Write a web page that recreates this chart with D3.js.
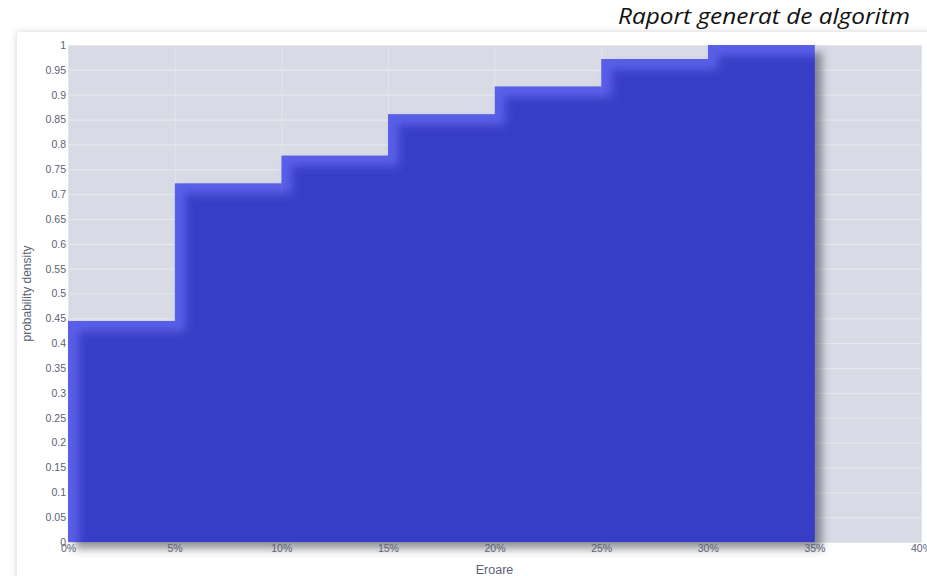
<!DOCTYPE html>
<html>
<head>
<meta charset="utf-8">
<script src="https://cdn.jsdelivr.net/npm/d3@7"></script>
<style>
  body { margin: 0; background: #fff; }
  svg { display: block; }
</style>
</head>
<body>
<div id="chart"></div>
<script>
var w = 927;
var h = 576;

// bins of the error (in %) and the cumulative density in each bin
var binStarts = [0, 5, 10, 15, 20, 25, 30];
var binWidth = 5;
var densities = [0.445, 0.722, 0.778, 0.861, 0.917, 0.972, 1.0];

var xTickValues = [0, 5, 10, 15, 20, 25, 30, 35, 40];
var yTickValues = [0, 0.05, 0.1, 0.15, 0.2, 0.25, 0.3, 0.35, 0.4, 0.45, 0.5,
                   0.55, 0.6, 0.65, 0.7, 0.75, 0.8, 0.85, 0.9, 0.95, 1];

var plotLeft = 68;
var plotRight = 921;
var plotTop = 45;
var plotBottom = 542;

var svg = d3.select("#chart")
        .append("svg")
        .attr("width", w)
        .attr("height", h);

var defs = svg.append("defs");

// soft shadow round the card
var cardShadow = defs.append("filter")
        .attr("id", "cardShadow")
        .attr("x", "-5%").attr("y", "-5%")
        .attr("width", "110%").attr("height", "110%");
cardShadow.append("feGaussianBlur")
        .attr("in", "SourceAlpha")
        .attr("stdDeviation", 3)
        .attr("result", "blur");
cardShadow.append("feFlood").attr("flood-color", "#000").attr("flood-opacity", 0.18);
cardShadow.append("feComposite").attr("in2", "blur").attr("operator", "in").attr("result", "sh");
var cm = cardShadow.append("feMerge");
cm.append("feMergeNode").attr("in", "sh");
cm.append("feMergeNode").attr("in", "SourceGraphic");

// bars: lighter edge top/left, dark drop shadow bottom/right
var barFx = defs.append("filter")
        .attr("id", "barFx")
        .attr("x", "-5%").attr("y", "-5%")
        .attr("width", "115%").attr("height", "115%");
barFx.append("feOffset").attr("in", "SourceAlpha").attr("dx", 10).attr("dy", 10).attr("result", "off");
barFx.append("feGaussianBlur").attr("in", "off").attr("stdDeviation", 4).attr("result", "offBlur");
barFx.append("feFlood").attr("flood-color", "#5a5fe8").attr("result", "lightC");
barFx.append("feComposite").attr("in", "lightC").attr("in2", "SourceAlpha").attr("operator", "in").attr("result", "light");
barFx.append("feFlood").attr("flood-color", "#383ec7").attr("result", "darkC");
barFx.append("feComposite").attr("in", "darkC").attr("in2", "offBlur").attr("operator", "in").attr("result", "dark");
barFx.append("feComposite").attr("in", "dark").attr("in2", "light").attr("operator", "over").attr("result", "body1");
barFx.append("feComposite").attr("in", "body1").attr("in2", "SourceAlpha").attr("operator", "in").attr("result", "body");
barFx.append("feOffset").attr("in", "SourceAlpha").attr("dx", 7).attr("dy", 7).attr("result", "shOff");
barFx.append("feGaussianBlur").attr("in", "shOff").attr("stdDeviation", 4).attr("result", "shBlur");
barFx.append("feFlood").attr("flood-color", "#3a3d48").attr("flood-opacity", 0.55);
barFx.append("feComposite").attr("in2", "shBlur").attr("operator", "in").attr("result", "shadow");
var bm = barFx.append("feMerge");
bm.append("feMergeNode").attr("in", "shadow");
bm.append("feMergeNode").attr("in", "body");

// card
svg.append("rect")
        .attr("x", 17)
        .attr("y", 32)
        .attr("width", w + 20)
        .attr("height", h + 20)
        .attr("fill", "#fff")
        .attr("filter", "url(#cardShadow)");

// title above the card
svg.append("text")
        .attr("x", 910)
        .attr("y", 24)
        .attr("text-anchor", "end")
        .attr("textLength", 292)
        .attr("lengthAdjust", "spacingAndGlyphs")
        .style("font-family", "'Open Sans', sans-serif")
        .style("font-style", "italic")
        .style("font-size", "22px")
        .style("fill", "#111")
        .text("Raport generat de algoritm");

var xScale = d3.scaleLinear()
        .domain([0, 40])
        .range([plotLeft, plotRight]);

var yScale = d3.scaleLinear()
        .domain([0, 1])
        .range([plotBottom, plotTop]);

// plot background
svg.append("rect")
        .attr("x", plotLeft)
        .attr("y", plotTop)
        .attr("width", plotRight - plotLeft)
        .attr("height", plotBottom - plotTop)
        .attr("fill", "#d8dbe5");

// gridlines
var yGrid = d3.axisLeft(yScale)
        .tickValues(yTickValues)
        .tickSize(-(plotRight - plotLeft))
        .tickFormat("");
svg.append("g")
        .attr("class", "grid")
        .attr("transform", "translate(" + plotLeft + ",0)")
        .call(yGrid)
        .call(function(g) {
            g.select(".domain").remove();
            g.selectAll("line").attr("stroke", "#e6e8ee").attr("stroke-width", 1.2);
        });

var xGrid = d3.axisBottom(xScale)
        .tickValues(xTickValues)
        .tickSize(-(plotBottom - plotTop))
        .tickFormat("");
svg.append("g")
        .attr("class", "grid")
        .attr("transform", "translate(0," + plotBottom + ")")
        .call(xGrid)
        .call(function(g) {
            g.select(".domain").remove();
            g.selectAll("line").attr("stroke", "#e2e5ec").attr("stroke-width", 1);
        });

// bars
var bars = svg.append("g")
        .attr("filter", "url(#barFx)");
bars.selectAll("rect")
        .data(binStarts)
        .enter()
        .append("rect")
        .attr("x", function(d) { return xScale(d); })
        .attr("y", function(d, i) { return yScale(densities[i]); })
        .attr("width", function(d) { return xScale(d + binWidth) - xScale(d) + 0.5; })
        .attr("height", function(d, i) { return plotBottom - yScale(densities[i]); })
        .attr("fill", "#383ec7");

// axes
var yAxis = d3.axisLeft(yScale)
        .tickValues(yTickValues)
        .tickSize(0)
        .tickPadding(2)
        .tickFormat(function(d) { return d3.format("~g")(d); });
svg.append("g")
        .attr("class", "axisY")
        .attr("transform", "translate(" + plotLeft + ",0)")
        .call(yAxis)
        .call(function(g) {
            g.select(".domain").remove();
            g.selectAll("text")
                .style("font-family", "'Liberation Sans', Arial, sans-serif")
                .style("font-size", "10.5px")
                .style("fill", "#5b6275");
        });

var xAxis = d3.axisBottom(xScale)
        .tickValues(xTickValues)
        .tickSize(0)
        .tickPadding(3)
        .tickFormat(function(d) { return d + "%"; });
svg.append("g")
        .attr("class", "axisX")
        .attr("transform", "translate(0," + plotBottom + ")")
        .call(xAxis)
        .call(function(g) {
            g.select(".domain").remove();
            g.selectAll("text")
                .style("font-family", "'Liberation Sans', Arial, sans-serif")
                .style("font-size", "10.5px")
                .style("fill", "#5b6275");
        });

// axis titles
svg.append("text")
        .attr("x", (plotLeft + plotRight) / 2)
        .attr("y", 574)
        .style("text-anchor", "middle")
        .style("font-family", "'Liberation Sans', Arial, sans-serif")
        .style("font-size", "12.5px")
        .style("fill", "#5b6275")
        .text("Eroare");

svg.append("text")
        .attr("transform", "translate(31," + ((plotTop + plotBottom) / 2) + ") rotate(-90)")
        .style("text-anchor", "middle")
        .style("font-family", "'Liberation Sans', Arial, sans-serif")
        .style("font-size", "12px")
        .style("fill", "#5b6275")
        .text("probability density");
</script>
</body>
</html>
